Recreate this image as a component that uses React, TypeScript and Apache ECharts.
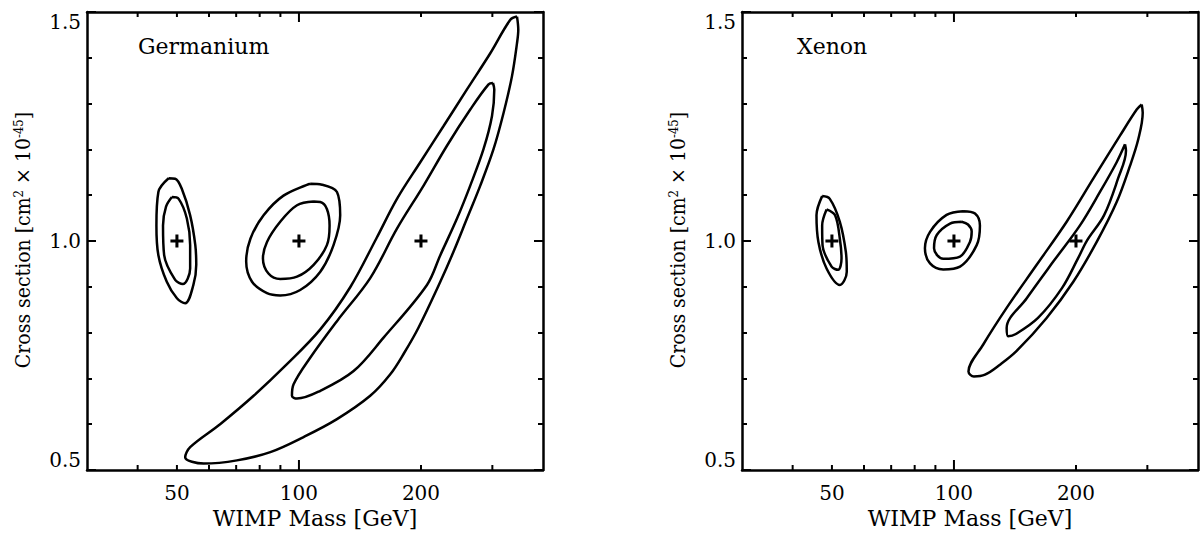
import { useEffect, useRef } from 'react';
import * as echarts from 'echarts';

type Pt = [number, number];

// ---- axes ----
const X_MIN = 30;
const X_MAX = 400;
const Y_MIN = 0.5;
const Y_MAX = 1.5;
const Y_STEP = 0.5;
const X_MAJOR_TICKS = [100];
const X_MINOR_TICKS = [40, 50, 60, 70, 80, 90, 200, 300];
const X_TICK_LABELS = [50, 100, 200];
const X_TITLE = 'WIMP Mass [GeV]';
const Y_TITLE = '{a|Cross section [cm}{s|2}{a| × 10}{s|-45}{a|]}';

// ---- best-fit points ----
const CENTER_MASSES = [50, 100, 200];
const CENTER_XSEC = 1.0;

// ---- Germanium contours [mass GeV, cross section] ----
const GE_50_OUTER: Pt[] = [[47.7, 1.137], [49.5, 1.136], [51.4, 1.114], [53.9, 1.056], [55.5, 0.991], [55.8, 0.948], [54.9, 0.904], [52.4, 0.864], [50.0, 0.875], [47.2, 0.911], [45.0, 0.969], [44.5, 1.034], [45.0, 1.107]];
const GE_50_INNER: Pt[] = [[48.6, 1.096], [50.5, 1.092], [52.9, 1.049], [53.9, 0.991], [53.9, 0.940], [51.7, 0.906], [49.5, 0.915], [46.5, 0.969], [46.2, 1.034], [47.0, 1.075]];
const GE_100_OUTER: Pt[] = [[106.6, 1.125], [114.0, 1.123], [124.1, 1.107], [126.4, 1.056], [121.7, 0.991], [112.9, 0.933], [100.7, 0.893], [89.9, 0.881], [83.4, 0.886], [76.6, 0.911], [74.1, 0.955], [75.9, 1.005], [81.8, 1.056], [91.6, 1.099]];
const GE_100_INNER: Pt[] = [[108.7, 1.086], [112.9, 1.085], [117.2, 1.070], [119.0, 1.034], [117.2, 0.991], [108.7, 0.948], [98.9, 0.922], [89.9, 0.917], [84.1, 0.929], [81.5, 0.962], [83.4, 0.998], [89.9, 1.042], [98.9, 1.078]];
const GE_200_OUTER: Pt[] = [[345.1, 1.490], [347.6, 1.461], [345.1, 1.432], [335.4, 1.360], [319.8, 1.280], [302.1, 1.201], [280.1, 1.121], [259.7, 1.049], [240.7, 0.977], [223.2, 0.911], [197.0, 0.810], [181.9, 0.756], [168.0, 0.709], [149.9, 0.662], [124.1, 0.611], [102.7, 0.572], [85.0, 0.539], [70.3, 0.521], [58.2, 0.514], [52.4, 0.528], [53.9, 0.550], [63.9, 0.600], [77.3, 0.662], [93.4, 0.731], [112.9, 0.807], [133.8, 0.899], [155.1, 1.005], [174.5, 1.092], [199.2, 1.172], [227.4, 1.251], [259.7, 1.331], [296.5, 1.410], [332.2, 1.483]];
const GE_200_INNER: Pt[] = [[301.0, 1.345], [303.3, 1.331], [299.4, 1.273], [285.4, 1.201], [264.6, 1.121], [245.4, 1.049], [223.2, 0.969], [206.9, 0.904], [161.7, 0.789], [136.4, 0.716], [112.9, 0.673], [98.9, 0.656], [96.1, 0.662], [97.0, 0.687], [106.6, 0.745], [124.1, 0.825], [149.9, 0.919], [174.5, 1.027], [203.0, 1.121], [231.8, 1.208], [264.6, 1.287], [293.6, 1.342]];

// ---- Xenon contours [mass GeV, cross section] ----
const XE_50_OUTER: Pt[] = [[47.3, 1.098], [49.4, 1.092], [52.3, 1.042], [54.1, 0.977], [54.4, 0.933], [52.3, 0.904], [48.5, 0.940], [46.3, 0.998], [45.8, 1.056]];
const XE_50_INNER: Pt[] = [[48.5, 1.069], [50.9, 1.056], [52.3, 1.005], [52.8, 0.962], [51.8, 0.937], [49.9, 0.944], [47.4, 0.991], [47.3, 1.034]];
const XE_100_OUTER: Pt[] = [[105.4, 1.065], [112.7, 1.060], [115.9, 1.034], [113.8, 0.991], [103.5, 0.944], [94.1, 0.938], [87.3, 0.951], [84.8, 0.984], [87.3, 1.020], [95.9, 1.057]];
const XE_100_INNER: Pt[] = [[104.5, 1.042], [108.3, 1.036], [110.6, 1.021], [109.5, 0.998], [103.5, 0.966], [94.1, 0.961], [89.3, 0.984], [90.7, 1.013], [97.8, 1.038]];
const XE_200_OUTER: Pt[] = [[290.5, 1.298], [292.2, 1.280], [284.9, 1.222], [271.8, 1.164], [252.0, 1.085], [225.0, 0.998], [197.0, 0.911], [169.3, 0.832], [142.8, 0.760], [129.9, 0.730], [119.3, 0.708], [112.0, 0.704], [108.6, 0.715], [118.1, 0.774], [134.9, 0.854], [160.0, 0.948], [189.7, 1.042], [220.6, 1.136], [256.8, 1.230], [282.4, 1.287]];
const XE_200_INNER: Pt[] = [[264.2, 1.211], [265.7, 1.197], [253.9, 1.136], [234.5, 1.056], [212.9, 1.001], [202.3, 0.962], [184.7, 0.897], [161.2, 0.832], [142.2, 0.797], [136.1, 0.792], [134.9, 0.810], [151.2, 0.875], [175.8, 0.955], [204.6, 1.034], [229.2, 1.107], [252.0, 1.172]];

const PANEL_NAMES = ['Germanium', 'Xenon'];
const PANEL_CONTOURS: Pt[][][] = [
  [GE_50_OUTER, GE_50_INNER, GE_100_OUTER, GE_100_INNER, GE_200_OUTER, GE_200_INNER],
  [XE_50_OUTER, XE_50_INNER, XE_100_OUTER, XE_100_INNER, XE_200_OUTER, XE_200_INNER],
];

// ---- layout / style ----
const FONT = '"DejaVu Serif", serif';
const FS_TICK = 20;
const FS_XTITLE = 22;
const FS_YTITLE = 21;
const FS_PANEL = 22;
const GRIDS = [
  { left: 87, top: 12, width: 456, height: 461 },
  { left: 742, top: 12, width: 456, height: 461 },
];
const TITLE_POS = [
  { left: 138, top: 35 },
  { left: 797, top: 35 },
];
const YTITLE_POS = [
  { x: 23, y: 240 },
  { x: 678, y: 240 },
];
const FRAME_W = 2.5;
const TICK_W = 2;
const PLUS = 'path://M4.6,0H7.4V4.6H12V7.4H7.4V12H4.6V7.4H0V4.6H4.6Z';

function buildOption() {
  const xAxis: any[] = [];
  const yAxis: any[] = [];
  const series: any[] = [];
  const graphic: any[] = [];

  GRIDS.forEach((_, i) => {
    const base = {
      type: 'log',
      logBase: 10,
      gridIndex: i,
      min: X_MIN,
      max: X_MAX,
      axisLine: { show: true, onZero: false, lineStyle: { color: '#000', width: FRAME_W } },
      axisTick: { show: false },
      axisLabel: { show: false },
      splitLine: { show: false },
    };
    xAxis.push({
      ...base,
      position: 'bottom',
      name: X_TITLE,
      nameLocation: 'middle',
      nameGap: 37,
      nameTextStyle: { fontFamily: FONT, fontSize: FS_XTITLE, color: '#000' },
    });
    xAxis.push({ ...base, position: 'top' });

    const yBase = {
      type: 'value',
      gridIndex: i,
      min: Y_MIN,
      max: Y_MAX,
      interval: Y_STEP,
      axisLine: { show: true, onZero: false, lineStyle: { color: '#000', width: FRAME_W } },
      axisTick: { show: true, inside: true, length: 9, lineStyle: { color: '#000', width: TICK_W } },
      minorTick: { show: true, splitNumber: 5, length: 5, lineStyle: { color: '#000', width: TICK_W } },
      splitLine: { show: false },
      minorSplitLine: { show: false },
    };
    yAxis.push({
      ...yBase,
      position: 'left',
      axisLabel: {
        show: true,
        formatter: (v: number) => v.toFixed(1),
        fontFamily: FONT,
        fontSize: FS_TICK,
        color: '#000',
        margin: 6,
        verticalAlignMinLabel: 'bottom',
        verticalAlignMaxLabel: 'top',
      },
    });
    yAxis.push({ ...yBase, position: 'right', axisLabel: { show: false } });

    const xi = 2 * i;
    const yi = 2 * i;

    PANEL_CONTOURS[i].forEach((pts) => {
      series.push({
        type: 'line',
        xAxisIndex: xi,
        yAxisIndex: yi,
        data: [...pts, pts[0]],
        showSymbol: false,
        symbol: 'none',
        smooth: 0.35,
        lineStyle: { color: '#000', width: 2.5 },
        silent: true,
        z: 3,
      });
    });

    series.push({
      type: 'scatter',
      xAxisIndex: xi,
      yAxisIndex: yi,
      data: CENTER_MASSES.map((m) => [m, CENTER_XSEC]),
      symbol: PLUS,
      symbolSize: 13,
      itemStyle: { color: '#000', opacity: 1 },
      silent: true,
      z: 4,
    });

    const tickData = [
      ...X_MAJOR_TICKS.map((m) => [m, CENTER_XSEC, 1]),
      ...X_MINOR_TICKS.map((m) => [m, CENTER_XSEC, 0]),
    ];
    series.push({
      type: 'custom',
      xAxisIndex: xi,
      yAxisIndex: yi,
      data: tickData,
      silent: true,
      z: 5,
      renderItem: (_p: any, api: any) => {
        const m = api.value(0);
        const len = api.value(2) ? 10 : 5;
        const b = api.coord([m, Y_MIN]);
        const t = api.coord([m, Y_MAX]);
        return {
          type: 'group',
          children: [
            { type: 'line', shape: { x1: b[0], y1: b[1], x2: b[0], y2: b[1] - len }, style: { stroke: '#000', lineWidth: TICK_W } },
            { type: 'line', shape: { x1: t[0], y1: t[1], x2: t[0], y2: t[1] + len }, style: { stroke: '#000', lineWidth: TICK_W } },
          ],
        };
      },
    });

    series.push({
      type: 'custom',
      xAxisIndex: xi,
      yAxisIndex: yi,
      data: X_TICK_LABELS.map((m) => [m, CENTER_XSEC]),
      silent: true,
      z: 5,
      renderItem: (_p: any, api: any) => {
        const m = api.value(0);
        const b = api.coord([m, Y_MIN]);
        return {
          type: 'text',
          x: b[0],
          y: b[1] + 23,
          style: {
            text: String(m),
            fontFamily: FONT,
            fontSize: FS_TICK,
            fill: '#000',
            align: 'center',
            verticalAlign: 'middle',
          },
        };
      },
    });

    graphic.push({
      type: 'text',
      left: TITLE_POS[i].left,
      top: TITLE_POS[i].top,
      style: { text: PANEL_NAMES[i], fontFamily: FONT, fontSize: FS_PANEL, fill: '#000' },
    });
    graphic.push({
      type: 'text',
      x: YTITLE_POS[i].x,
      y: YTITLE_POS[i].y,
      rotation: Math.PI / 2,
      scaleX: 0.9,
      style: {
        text: Y_TITLE,
        align: 'center',
        verticalAlign: 'middle',
        fontFamily: FONT,
        fontSize: FS_YTITLE,
        fill: '#000',
        rich: {
          a: { fontFamily: FONT, fontSize: FS_YTITLE, fill: '#000' },
          s: { fontFamily: FONT, fontSize: 13, fill: '#000', verticalAlign: 'top' },
        },
      },
    });
  });

  return {
    animation: false,
    backgroundColor: '#fff',
    grid: GRIDS.map((g) => ({ ...g, containLabel: false })),
    xAxis,
    yAxis,
    series,
    graphic,
  };
}

export default function App() {
  const ref = useRef<HTMLDivElement>(null);
  useEffect(() => {
    document.body.style.margin = '0';
    if (!ref.current) return;
    const chart = echarts.init(ref.current, undefined, { renderer: 'svg' });
    chart.setOption(buildOption() as any);
    return () => chart.dispose();
  }, []);
  return <div ref={ref} style={{ width: 1200, height: 534 }} />;
}
